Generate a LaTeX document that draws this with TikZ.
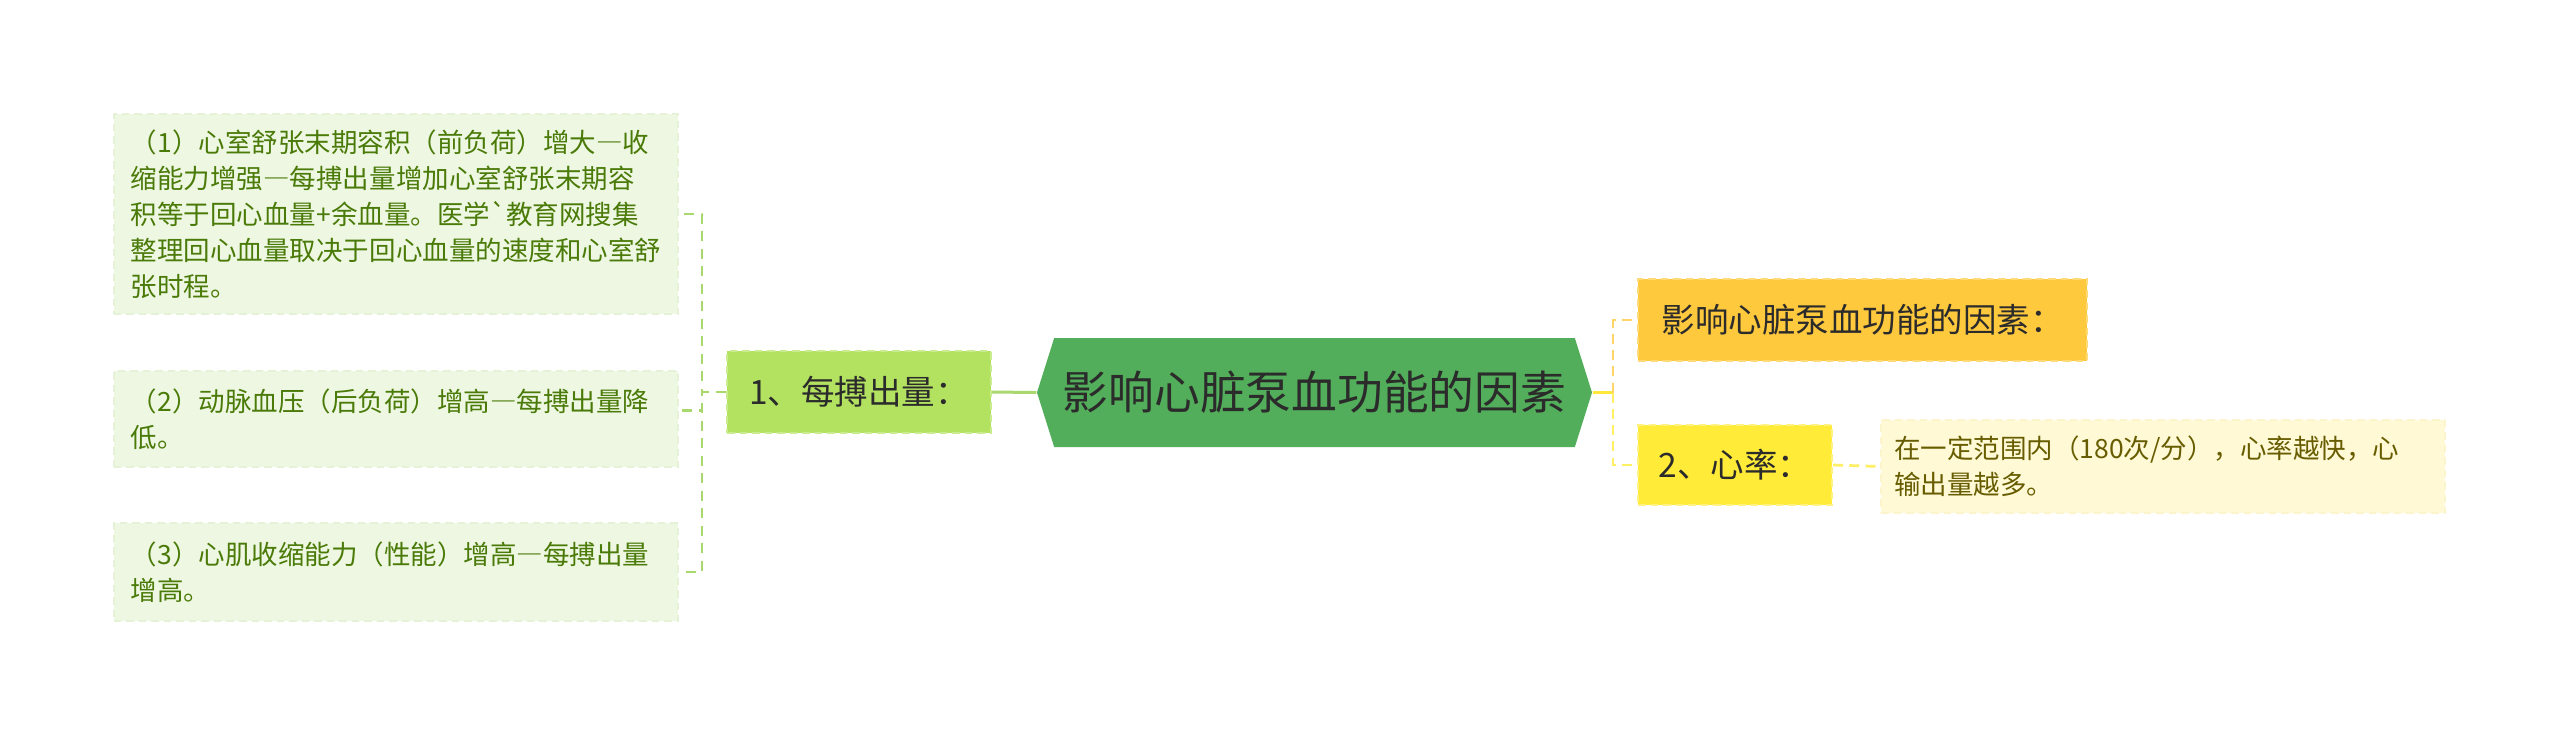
\documentclass[tikz,border=0pt]{standalone}
\usepackage{fontspec}
\setmainfont{Noto Sans CJK SC}[Ligatures=TeXOff]
\newfontfamily\fwfont{Noto Sans CJK SC}[RawFeature=+fwid]
\newcommand{\fwdash}{{\fwfont —}}
\usepackage{tikz}
\usetikzlibrary{shapes.symbols}

\definecolor{leaffill}{HTML}{EEF7E1}
\definecolor{leafline}{HTML}{E6F2D8}
\definecolor{leaftext}{HTML}{4A7A08}
\definecolor{subfill}{HTML}{B3E261}
\definecolor{subline}{HTML}{CAEC90}
\definecolor{rootfill}{HTML}{52AE5A}
\definecolor{darktext}{HTML}{2B2B2B}
\definecolor{gline}{HTML}{A9D86E}
\definecolor{orfill}{HTML}{FFC93E}
\definecolor{orline}{HTML}{FFDA78}
\definecolor{yefill}{HTML}{FFEB38}
\definecolor{yeline}{HTML}{FFF283}
\definecolor{notefill}{HTML}{FFF9D6}
\definecolor{noteline}{HTML}{FBF4CC}
\definecolor{notetext}{HTML}{675D00}

\begin{document}
\begin{tikzpicture}[x=0.4pt, y=-0.4pt,
  leafbox/.style={font=\fontsize{10.6pt}{14.4pt}\selectfont, text=leaftext, fill=leaffill, draw=leafline, dash pattern=on 3pt off 2pt, line width=0.6pt, text width=212pt, inner xsep=6.8pt, inner ysep=0pt, align=left},
  midbox/.style={font=\fontsize{13.4pt}{15pt}\selectfont, text=darktext, dash pattern=on 3pt off 2pt, line width=0.8pt, inner sep=0pt, minimum height=32.8pt},
  rootbox/.style={shape=signal, signal to=west and east, signal pointer angle=145, fill=rootfill, text=darktext, font=\fontsize{18.3pt}{22pt}\selectfont, minimum width=222pt, minimum height=43.6pt, inner sep=0pt},
  gdash/.style={draw=gline, line width=1.1pt, dash pattern=on 4pt off 3pt},
  odash/.style={draw=orline!70!orfill, line width=1.1pt, dash pattern=on 4pt off 2.5pt},
  ydash/.style={draw=yeline!60!yefill, line width=1.1pt, dash pattern=on 4pt off 2.5pt}]
\fill[white] (0,0) rectangle (2560,735);
% left branch
\node[leafbox, minimum height=80pt] (b1) at (396,214) {（1）心室舒张末期容积（前负荷）增大\fwdash 收\\缩能力增强\fwdash 每搏出量增加心室舒张末期容\\积等于回心血量+余血量。医学`教育网搜集\\整理回心血量取决于回心血量的速度和心室舒\\张时程。};
\node[leafbox, minimum height=38.4pt] (b2) at (396,419) {（2）动脉血压（后负荷）增高\fwdash 每搏出量降\\低。};
\node[leafbox, minimum height=39.2pt] (b3) at (396,572) {（3）心肌收缩能力（性能）增高\fwdash 每搏出量\\增高。};
\node[midbox, fill=subfill, draw=subline, minimum width=105.6pt] (n1) at (859,392) {1、每搏出量：};
\node[rootbox] (root) at (1314.5,392.5) {影响心脏泵血功能的因素};
% right branch
\node[midbox, fill=orfill, draw=orline, minimum width=179.6pt] (o1) at (1862.5,320) {影响心脏泵血功能的因素：};
\node[midbox, fill=yefill, draw=yeline, minimum width=77.6pt, minimum height=32pt] (y1) at (1735,465) {2、心率：};
\node[leafbox, text=notetext, fill=notefill, draw=noteline, text width=215pt, inner xsep=5.3pt, minimum height=37.2pt] (d1) at (2163,466.5) {在一定范围内（180次/分），心率越快，心\\输出量越多。};
\coordinate (lx) at (702,392);
\coordinate (rx) at (1613,392);
\draw[gline, line width=1.2pt] (root.west) -- (n1.east);
\draw[gdash] (n1.west) -- (n1.west -| lx) |- (b1.east);
\draw[gdash] (n1.west) -- (n1.west -| lx) |- ([yshift=3.5pt]b2.east);
\draw[gdash] (n1.west) -- (n1.west -| lx) |- (b3.east);
\draw[yefill!90!orfill, line width=1.2pt] (root.east) -- (root.east -| rx);
\draw[odash] (root.east -| rx) |- (o1.west);
\draw[ydash] (root.east -| rx) |- (y1.west);
\draw[ydash] (y1.east) -- (d1.west);
\end{tikzpicture}
\end{document}
